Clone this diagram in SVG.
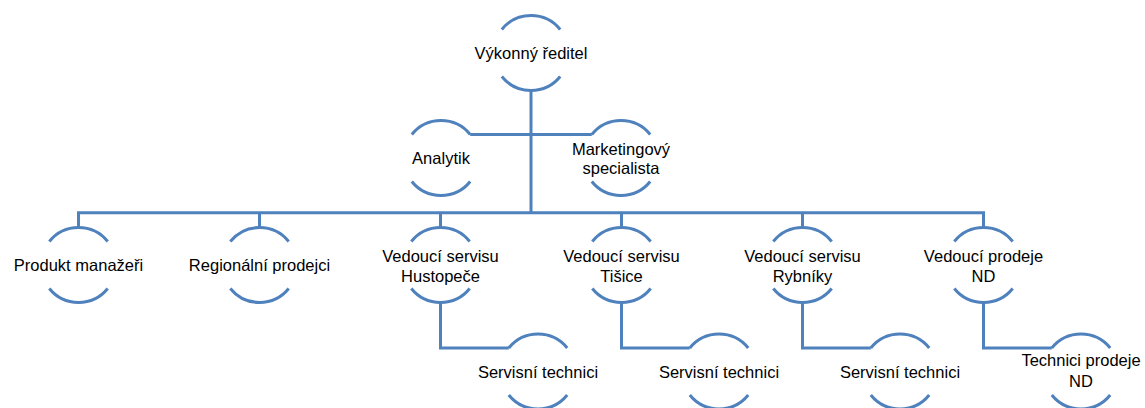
<svg xmlns="http://www.w3.org/2000/svg" width="1145" height="408" viewBox="0 0 1145 408">
<style>
.arc{fill:none;stroke:#4f81bd;stroke-width:3;stroke-linecap:butt}
.con{fill:none;stroke:#4f81bd;stroke-width:3;stroke-linejoin:miter}
.t{font-family:"Liberation Sans",Arial,sans-serif;font-size:16.5px;fill:#000;text-anchor:middle}
</style>
<defs>
<g id="ring">
<path class="arc" d="M-29.2 -23.5 A37.5 37.5 0 0 1 29.2 -23.5"/>
<path class="arc" d="M-29.2 23.5 A37.5 37.5 0 0 0 29.2 23.5"/>
</g>
</defs>
<rect width="1145" height="408" fill="#fff"/>
<g id="connectors">
<path class="con" d="M531 90.5 V212.7"/>
<path class="con" d="M470.2 134.5 H591.8"/>
<path class="con" d="M78.5 227.5 V212.7 H983.5 V227.5"/>
<path class="con" d="M259.5 212.7 V227.5 M440.5 212.7 V227.5 M621.5 212.7 V227.5 M802.5 212.7 V227.5"/>
<path class="con" d="M440.5 302.5 V348 H508.8"/>
<path class="con" d="M621.5 302.5 V348 H689.8"/>
<path class="con" d="M802.5 302.5 V348 H870.8"/>
<path class="con" d="M983.5 302.5 V348 H1051.8"/>
</g>
<g id="n-reditel"><use href="#ring" x="531" y="53"/><text class="t" x="531" y="59">Výkonný ředitel</text></g>
<g id="n-analytik"><use href="#ring" x="441" y="158"/><text class="t" x="441" y="164">Analytik</text></g>
<g id="n-marketing"><use href="#ring" x="621" y="158"/><text class="t" x="621" y="155">Marketingový</text><text class="t" x="621" y="174">specialista</text></g>
<g id="n-produkt"><use href="#ring" x="78.5" y="265"/><text class="t" x="78.5" y="271">Produkt manažeři</text></g>
<g id="n-regionalni"><use href="#ring" x="259.5" y="265"/><text class="t" x="259.5" y="271">Regionální prodejci</text></g>
<g id="n-hustopece"><use href="#ring" x="440.5" y="265"/><text class="t" x="440.5" y="261.5">Vedoucí servisu</text><text class="t" x="440.5" y="281.5">Hustopeče</text></g>
<g id="n-tisice"><use href="#ring" x="621.5" y="265"/><text class="t" x="621.5" y="261.5">Vedoucí servisu</text><text class="t" x="621.5" y="281.5">Tišice</text></g>
<g id="n-rybniky"><use href="#ring" x="802.5" y="265"/><text class="t" x="802.5" y="261.5">Vedoucí servisu</text><text class="t" x="802.5" y="281.5">Rybníky</text></g>
<g id="n-prodejnd"><use href="#ring" x="983.5" y="265"/><text class="t" x="983.5" y="261.5">Vedoucí prodeje</text><text class="t" x="983.5" y="281.5">ND</text></g>
<g id="n-servis1"><use href="#ring" x="538" y="371.5"/><text class="t" x="538" y="378">Servisní technici</text></g>
<g id="n-servis2"><use href="#ring" x="719" y="371.5"/><text class="t" x="719" y="378">Servisní technici</text></g>
<g id="n-servis3"><use href="#ring" x="900" y="371.5"/><text class="t" x="900" y="378">Servisní technici</text></g>
<g id="n-technicind"><use href="#ring" x="1081" y="371.5"/><text class="t" x="1081" y="366">Technici prodeje</text><text class="t" x="1081" y="387">ND</text></g>
</svg>
